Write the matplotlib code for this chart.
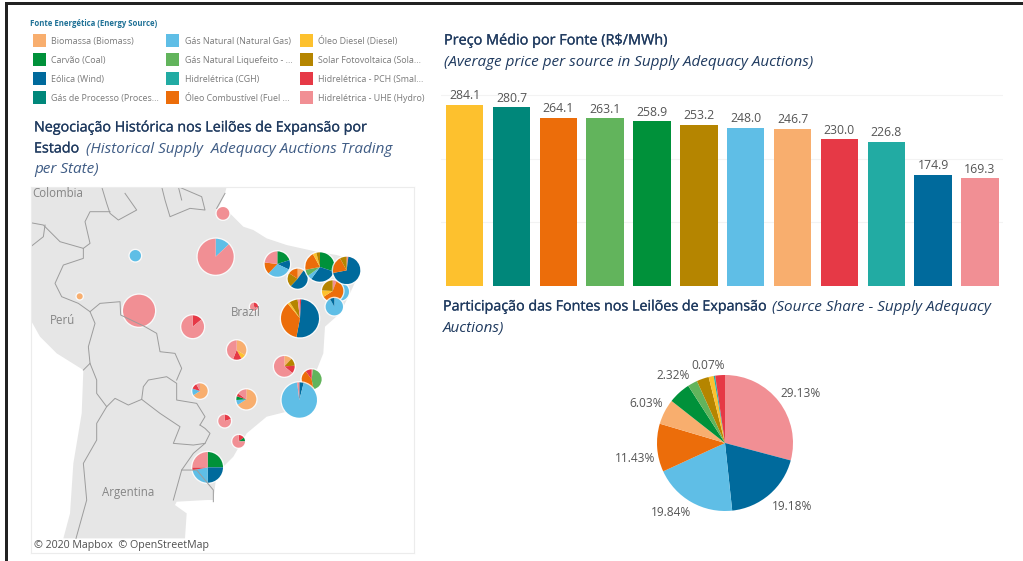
import numpy as np
import matplotlib
matplotlib.use('Agg')
import matplotlib.pyplot as plt
import matplotlib.patheffects as pe
from matplotlib.patches import Circle, Polygon, Rectangle

plt.rcParams['font.family'] = ['Open Sans', 'DejaVu Sans']

# fontes, na ordem das barras
fontes = ['diesel', 'processo', 'oleo', 'gnl', 'carvao', 'solar', 'gas', 'biomassa', 'pch', 'cgh', 'eolica', 'uhe']
precos = [284.1, 280.7, 264.1, 263.1, 258.9, 253.2, 248.0, 246.7, 230.0, 226.8, 174.9, 169.3]
cores = {'diesel': '#FDC12E', 'processo': '#00877A', 'oleo': '#EC6D0A', 'gnl': '#62B45C',
         'carvao': '#00913A', 'solar': '#B58500', 'gas': '#5FBEE6', 'biomassa': '#F8AE6E',
         'pch': '#E63946', 'cgh': '#22ABA3', 'eolica': '#006A9C', 'uhe': '#F18F94'}

# legenda, por coluna
leg_fontes = ['biomassa', 'carvao', 'eolica', 'processo', 'gas', 'gnl', 'cgh', 'oleo', 'diesel', 'solar', 'pch', 'uhe']
leg_textos = ['Biomassa (Biomass)', 'Carvão (Coal)', 'Eólica (Wind)', 'Gás de Processo (Proces...',
              'Gás Natural (Natural Gas)', 'Gás Natural Liquefeito - ...', 'Hidrelétrica (CGH)', 'Óleo Combustível (Fuel ...',
              'Óleo Diesel (Diesel)', 'Solar Fotovoltaica (Sola...', 'Hidrelétrica - PCH (Smal...', 'Hidrelétrica - UHE (Hydro)']

# pizza geral, sentido horario a partir do topo
pizza_fontes = ['uhe', 'eolica', 'gas', 'oleo', 'biomassa', 'carvao', 'gnl', 'solar', 'diesel', 'cgh', 'processo', 'pch']
pizza_valores = [29.13, 19.18, 19.84, 11.43, 6.03, 5.30, 2.32, 2.90, 1.20, 0.30, 0.07, 2.30]
pizza_rotulos = ['29.13%', '19.18%', '19.84%', '11.43%', '6.03%', '2.32%', '0.07%']

# mapa: pizzas por estado (unidades do mapa)
mapa_x = [669, 406, 647, 239, 417, 578, 762, 710, 832, 893, 960, 1020, 998, 1003, 1040, 900, 853, 935, 898, 600, 739, 674, 716, 623]
mapa_y = [100, 227, 230, 349, 392, 440, 380, 510, 252, 296, 261, 335, 333, 380, 271, 415, 559, 598, 660, 633, 658, 723, 784, 862]
mapa_r = [19, 17, 54, 9, 48, 34, 12, 29, 38, 30, 44, 27, 32, 26, 41, 57, 31, 30, 53, 23, 30, 19, 19, 46]
mapa_fontes = [['uhe'], ['gas'], ['gas', 'uhe'], ['biomassa'], ['uhe'], ['pch', 'uhe'], ['pch', 'uhe'],
               ['biomassa', 'diesel', 'pch', 'uhe'], ['carvao', 'eolica', 'gas', 'oleo', 'uhe'],
               ['biomassa', 'eolica', 'solar', 'oleo'],
               ['carvao', 'eolica', 'gas', 'gnl', 'oleo', 'diesel', 'solar'],
               ['gas'], ['uhe', 'oleo', 'diesel', 'solar'], ['gas', 'eolica'], ['uhe', 'eolica', 'oleo', 'solar'],
               ['pch', 'eolica', 'oleo', 'diesel', 'solar', 'uhe'], ['biomassa', 'solar', 'pch', 'uhe'],
               ['uhe', 'gnl', 'oleo', 'pch'], ['eolica', 'gas', 'uhe'], ['biomassa', 'gas', 'pch', 'uhe'],
               ['biomassa', 'gas', 'carvao', 'pch', 'uhe'], ['pch', 'uhe'], ['pch', 'carvao', 'uhe'],
               ['carvao', 'eolica', 'gas', 'pch', 'uhe']]
mapa_partes = [[1], [1], [.13, .87], [1], [1], [.14, .86], [.3, .7], [.34, .08, .14, .44], [.2, .12, .3, .15, .23],
               [.1, .52, .22, .16], [.3, .3, .05, .07, .2, .04, .04], [1], [.06, .6, .1, .24], [.92, .08], [.02, .7, .2, .08],
               [.01, .52, .36, .02, .07, .02], [.12, .12, .12, .64], [.02, .45, .43, .1], [.04, .94, .02], [.66, .14, .12, .08],
               [.66, .08, .06, .05, .15], [.2, .8], [.15, .1, .75], [.25, .25, .22, .03, .25]]

# contorno do continente e fronteiras (unidades do mapa)
terra_x = [92, 680, 675, 655, 690, 730, 760, 800, 860, 950, 1010, 1060, 1082, 1050, 1020, 975, 970, 950, 940, 880, 800, 740, 700, 650, 640, 620, 530, 525, 560, 555, 190, 210, 220, 245, 250, 170, 120, 92]
terra_y = [20, 20, 40, 85, 100, 140, 150, 175, 195, 215, 225, 240, 270, 340, 400, 440, 520, 570, 620, 690, 710, 760, 830, 880, 960, 960, 965, 975, 1000, 1075, 1075, 1000, 850, 700, 570, 520, 470, 420]
fronteiras = [
    ([92, 130, 180, 250, 250, 190, 165, 185, 235, 270, 300, 360, 362, 435, 470, 480, 525, 545, 530],
     [128, 135, 185, 205, 235, 255, 310, 350, 370, 395, 370, 365, 405, 440, 460, 515, 520, 565, 600]),
    ([305, 320, 330, 355, 410, 375], [20, 70, 100, 120, 90, 40]),
    ([330, 270, 255, 270, 250], [95, 95, 125, 190, 205]),
    ([485, 495, 510, 570, 615, 605, 535, 545], [20, 60, 110, 85, 90, 50, 20, 60]),
    ([650, 675], [85, 40]),
    ([92, 130, 135], [200, 170, 135]),
    ([270, 285, 265, 270, 250], [395, 430, 500, 550, 570]),
    ([270, 290, 290, 320, 345, 385, 425, 430, 445, 500, 530, 530, 590, 615, 600],
     [550, 600, 640, 680, 655, 675, 658, 620, 600, 590, 610, 660, 670, 710, 735]),
    ([425, 480, 540, 520, 580, 615, 630, 615, 600], [658, 700, 740, 790, 795, 790, 760, 745, 735]),
    ([320, 290, 290, 250, 260, 228], [680, 730, 780, 850, 960, 1075]),
    ([615, 580, 545, 520], [790, 820, 870, 960]),
    ([545, 590, 640, 640], [870, 870, 930, 965]),
]

L, A = 1023, 561
fig = plt.figure(figsize=(L / 100, A / 100), dpi=100, facecolor='white')


def eixos_px(esq, topo, dir, base):
    return fig.add_axes([esq / L, 1 - base / A, (dir - esq) / L, (base - topo) / A])


# camada de texto em pixels
tela = eixos_px(0, 0, L, A)
tela.set_xlim(0, L)
tela.set_ylim(A, 0)
tela.axis('off')
tela.add_patch(Rectangle((5, 2), 2.5, A, color='#222222', lw=0))
tela.add_patch(Rectangle((5, 2), L, 2.5, color='#222222', lw=0))


def texto(x, y, s, size, cor, **kw):
    return tela.text(x, y, s, fontsize=size, color=cor, va='center', **kw)


def titulo(x, y, s, size):
    # peso medio nao existe na fonte, engrossa com um traco fino
    t = texto(x, y, s, size, AZUL)
    t.set_path_effects([pe.withStroke(linewidth=0.18, foreground=AZUL)])


AZUL = '#1F3A5F'
AZUL_IT = '#3F5C85'
texto(30, 23, 'Fonte Energética (Energy Source)', 5.6, '#1F7196', fontweight='bold')
for i, (f, s) in enumerate(zip(leg_fontes, leg_textos)):
    col, lin = i // 4, i % 4
    tela.add_patch(Rectangle((32.5 + col * 133.7, 33.5 + lin * 19.1), 13, 13, color=cores[f], lw=0))
    texto(51 + col * 133.7, 41 + lin * 19.1, s, 6.4, '#7A7A7A')

titulo(34, 128, 'Negociação Histórica nos Leilões de Expansão por', 10.3)
titulo(34, 149, 'Estado', 10.3)
texto(86, 149, '(Historical Supply  Adequacy Auctions Trading', 11, AZUL_IT, style='italic')
texto(34, 169, 'per State)', 11, AZUL_IT, style='italic')
titulo(444, 41, 'Preço Médio por Fonte (R$/MWh)', 10.4)
texto(444, 62, '(Average price per source in Supply Adequacy Auctions)', 11, AZUL, style='italic')
titulo(443, 307, 'Participação das Fontes nos Leilões de Expansão', 10.3)
texto(772, 307, '(Source Share - Supply Adequacy', 11, AZUL, style='italic')
texto(443, 328, 'Auctions)', 11, AZUL, style='italic')

# barras
ax = eixos_px(441.2, 90, 1003.4, 286)
ax.set_xlim(-0.5, 11.5)
ax.set_ylim(0, 307.7)
ax.patch.set_alpha(0)
ax.bar(range(len(precos)), precos, width=0.8, color=[cores[f] for f in fontes], zorder=2)
for i, v in enumerate(precos):
    ax.text(i, v + 4, f'{v:.1f}', ha='center', va='bottom', fontsize=8.8, color='#555555')
for g in [100, 200, 300]:
    ax.axhline(g, color='#F3F3F3', lw=0.8, zorder=1)
ax.axis('off')

# pizza geral
p = eixos_px(657, 375, 793, 511)
p.pie(pizza_valores, colors=[cores[f] for f in pizza_fontes], startangle=90, counterclock=False, radius=1)
p.set_xlim(-1, 1)
p.set_ylim(-1, 1)
rot_x = [801, 792, 671, 635, 646, 673, 708]
rot_y = [393, 506, 513, 458, 403, 375, 365]
for x, y, s in zip(rot_x, rot_y, pizza_rotulos):
    tela.text(x, y, s, fontsize=8.6, color='#555555', ha='center', va='center')

# mapa
m = eixos_px(30.7, 186.7, 414.3, 552.7)
m.add_patch(Polygon(np.column_stack([terra_x, -np.array(terra_y)]), color='#E6E6E6', lw=0))
for fx, fy in fronteiras:
    m.plot(fx, -np.array(fy), color='#9C9C9C', lw=0.7)
for x, y, s in [(98, 40, 'Colombia'), (150, 421, 'Perú'), (693, 398, 'Brazil'), (306, 938, 'Argentina')]:
    m.text(x, -y, s, fontsize=8.3, color='#858585', va='center')
m.text(102, -1095, '© 2020 Mapbox  © OpenStreetMap', fontsize=7.7, color='#505050', va='center')
for x, y, r, fs, partes in zip(mapa_x, mapa_y, mapa_r, mapa_fontes, mapa_partes):
    m.add_patch(Circle((x, -y), r + 4, color='white', lw=0, alpha=0.8))
    m.pie(partes, colors=[cores[f] for f in fs], startangle=90, counterclock=False,
          center=(x, -y), radius=r, normalize=True)
m.set_xlim(92, 1243)
m.set_ylim(-1118, -20)
m.set_aspect('auto')
m.axis('on')
m.set_xticks([])
m.set_yticks([])
m.set_frame_on(True)
for s in m.spines.values():
    s.set_color('#ECECEC')

fig.savefig('out.png', dpi=100)
